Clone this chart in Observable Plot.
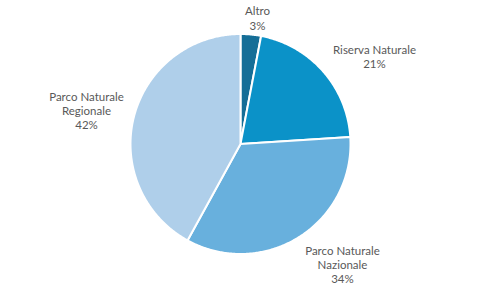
<!DOCTYPE html>
<html>
<head>
<meta charset="utf-8">
<script src="https://cdn.jsdelivr.net/npm/d3@7"></script>
<script src="https://cdn.jsdelivr.net/npm/@observablehq/plot@0.6"></script>
<style>
  html, body { margin: 0; padding: 0; background: #fff; }
</style>
</head>
<body>
<div id="chart"></div>
<script>
const categories = ["Altro", "Riserva Naturale", "Parco Naturale Nazionale", "Parco Naturale Regionale"];
const values = [3, 21, 34, 42];
const labelLines = [["Altro"], ["Riserva Naturale"], ["Parco Naturale", "Nazionale"], ["Parco Naturale", "Regionale"]];
const colors = ["#156e97", "#0b92c8", "#68b0dd", "#afcfea"];
// label anchor positions in unit-circle coordinates (radius = 1)
const labelPos = [[0.155, 1.145], [1.218, 0.795], [0.927, -1.095], [-1.40, 0.305]];

const total = d3.sum(values);
const pie = d3.pie().sort(null).value(d => d)(values);

// Build slice outlines in unit coordinates (angle 0 = top, clockwise)
const slicePts = [];
pie.forEach((p, i) => {
  const n = Math.max(4, Math.ceil((p.endAngle - p.startAngle) / 0.01));
  slicePts.push({cat: categories[i], x: 0, y: 0});
  for (let k = 0; k <= n; k++) {
    const a = p.startAngle + (p.endAngle - p.startAngle) * k / n;
    slicePts.push({cat: categories[i], x: Math.sin(a), y: Math.cos(a)});
  }
  slicePts.push({cat: categories[i], x: 0, y: 0});
});

const labels = [];
categories.forEach((c, i) => {
  const lines = [...labelLines[i], Math.round(values[i] / total * 100) + "%"];
  labels.push({x: labelPos[i][0], y: labelPos[i][1], text: lines.join("\n")});
});

const chart = Plot.plot({
  width: 480,
  height: 288,
  margin: 0,
  x: {domain: [-1, 1], range: [130, 350], axis: null},
  y: {domain: [-1, 1], range: [253.5, 33.5], axis: null},
  color: {domain: categories, range: colors},
  style: {fontFamily: "Lato, sans-serif", background: "#fff"},
  marks: [
    Plot.line(slicePts, {x: "x", y: "y", z: "cat", fill: "cat", stroke: "#fff", strokeWidth: 2, strokeLinejoin: "round", curve: "linear"}),
    Plot.text(labels, {x: "x", y: "y", text: "text", fontSize: 11.5, lineHeight: 1.24, fill: "#595959", textAnchor: "middle"})
  ]
});
document.getElementById("chart").appendChild(chart);
</script>
</body>
</html>
